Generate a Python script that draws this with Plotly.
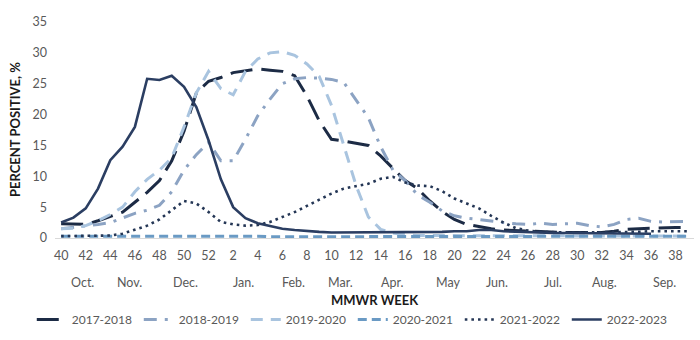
import plotly.graph_objects as go

# MMWR weeks of a season: week 40 through week 39 of the next year
weeks = list(range(40, 53)) + list(range(1, 40))

s2017_2018 = [2.3, 2.2, 2.2, 2.8, 3.5, 4.2, 5.8, 7.4, 9.3, 12.5, 17.3, 23.5, 25.4,
              26.0, 26.8, 27.1, 27.4, 27.2, 27.0, 26.3, 23.0, 19.0, 16.0, 15.7, 15.4,
              15.0, 13.3, 11.3, 9.3, 8.0, 6.0, 4.3, 3.0, 2.2, 1.8, 1.5, 1.3, 1.2, 1.1,
              1.0, 1.0, 0.9, 0.9, 0.9, 0.9, 1.1, 1.4, 1.5, 1.6, 1.7, 1.7, 1.7]
s2018_2019 = [1.5, 1.7, 2.0, 2.2, 2.5, 3.3, 4.0, 4.5, 5.3, 7.5, 11.0, 13.5, 15.5,
              12.5, 12.5, 16.0, 19.8, 22.5, 25.0, 25.8, 26.0, 25.9, 25.7, 25.2, 22.4,
              19.5, 14.8, 11.0, 9.3, 7.0, 5.8, 4.4, 3.6, 3.2, 3.0, 2.7, 2.5, 2.3, 2.2,
              2.4, 2.2, 2.3, 2.4, 2.0, 1.8, 2.2, 3.0, 3.2, 2.7, 2.6, 2.7, 2.7]
s2019_2020 = [1.5, 1.6, 2.0, 2.8, 3.8, 5.0, 7.5, 9.5, 11.0, 13.0, 18.0, 23.5, 27.0,
              24.2, 23.2, 27.0, 29.0, 30.0, 30.2, 29.6, 28.2, 26.2, 21.5, 15.0, 8.5,
              3.4, 1.4, 0.8, 0.5, 0.4, 0.4, 0.3, 0.3, 0.3, 0.3, 0.3, 0.3, 0.3, 0.3,
              0.3, 0.3, 0.3, 0.3, 0.3, 0.3, 0.3, 0.3, 0.3, 0.3, 0.3, 0.3, 0.3]
s2020_2021 = [0.3, 0.3, 0.3, 0.3, 0.3, 0.3, 0.3, 0.3, 0.3, 0.3, 0.3, 0.3, 0.4,
              0.4, 0.3, 0.3, 0.3, 0.2, 0.2, 0.2, 0.2, 0.2, 0.2, 0.2, 0.2, 0.2, 0.2,
              0.2, 0.2, 0.2, 0.2, 0.2, 0.2, 0.2, 0.2, 0.2, 0.2, 0.2, 0.2, 0.2, 0.2,
              0.2, 0.2, 0.2, 0.2, 0.2, 0.2, 0.2, 0.2, 0.2, 0.2, 0.3]
s2021_2022 = [0.3, 0.3, 0.3, 0.3, 0.4, 0.7, 1.3, 2.0, 3.0, 4.5, 6.0, 5.6, 4.2,
              2.6, 2.2, 2.0, 2.1, 2.6, 3.4, 4.2, 5.2, 6.2, 7.2, 8.0, 8.4, 8.8, 9.6,
              9.9, 9.0, 8.5, 8.4, 7.6, 6.4, 5.6, 4.8, 3.6, 2.5, 1.6, 1.2, 1.0, 0.9,
              0.9, 0.9, 0.9, 0.9, 0.9, 0.9, 1.0, 1.1, 1.1, 1.1, 1.1]
s2022_2023 = [2.5, 3.3, 4.8, 8.0, 12.6, 14.8, 18.0, 25.8, 25.6, 26.3, 24.5, 21.2, 15.8,
              9.5, 5.0, 3.2, 2.4, 1.9, 1.5, 1.3, 1.1, 1.0, 0.9, 0.9, 0.9, 0.9, 1.0,
              0.9, 0.9, 0.9, 1.0, 1.0, 1.1, 1.1, 1.3, 1.3, 1.1, 1.0, 0.9, 0.8, 0.8,
              0.8, 0.8, 0.8, 0.8, 0.8, 0.8, 0.8, 0.7, None, None, None]

months = ["Oct.", "Nov.", "Dec.", "Jan.", "Feb.", "Mar.", "Apr.", "May", "Jun.",
          "Jul.", "Aug.", "Sep."]
month_pos = [1.7, 5.6, 10.1, 14.8, 18.9, 22.7, 27.0, 31.5, 35.5, 40.0, 44.2, 49.1]

idx = list(range(len(weeks)))

series = [
    ("2017-2018", s2017_2018, "#1C2B45", 3, "22px,9px"),
    ("2018-2019", s2018_2019, "#8CA3C3", 3, "13px,8px,3px,8px"),
    ("2019-2020", s2019_2020, "#A9C4DF", 3, "12px,8px"),
    ("2020-2021", s2020_2021, "#6A9AC4", 3, "9px,5px"),
    ("2021-2022", s2021_2022, "#243655", 2.6, "2.6px,4px"),
    ("2022-2023", s2022_2023, "#2B3E62", 2.6, "solid"),
]

fig = go.Figure()
for name, vals, color, width, dash in series:
    fig.add_trace(go.Scatter(
        x=idx, y=vals, name=name, mode="lines",
        line=dict(color=color, width=width, dash=dash),
    ))

font_fam = "Lato, 'Open Sans', sans-serif"

fig.update_layout(
    width=700, height=340,
    margin=dict(l=55, r=6, t=22, b=98),
    paper_bgcolor="white", plot_bgcolor="white",
    font=dict(family=font_fam, size=12, color="#595959"),
    showlegend=True,
    legend=dict(
        orientation="h", x=0.466, xanchor="center", y=-0.377, yanchor="middle",
        font=dict(size=12, color="#595959"),
        entrywidth=62, entrywidthmode="pixels",
        traceorder="normal",
    ),
    xaxis=dict(
        range=[-0.5, 51.5],
        tickmode="array",
        tickvals=idx[::2],
        ticktext=[str(w) for w in weeks[::2]],
        showgrid=False, zeroline=False,
        showline=True, linecolor="#D9D9D9", linewidth=1,
        ticks="", ticklabelstandoff=6,
        tickfont=dict(size=12.5, color="#595959"),
    ),
    yaxis=dict(
        range=[0, 35], dtick=5,
        showgrid=False, zeroline=False, showline=False,
        ticks="", ticklabelstandoff=7,
        tickfont=dict(size=12.5, color="#595959"),
    ),
)

for label, pos in zip(months, month_pos):
    fig.add_annotation(
        x=pos, xref="x", y=-45 / 220, yref="paper",
        text=label, showarrow=False, xanchor="center", yanchor="middle",
        font=dict(size=12.5, color="#595959", family=font_fam),
    )

fig.add_annotation(
    x=(375 - 55) / 639, xref="paper", y=-63 / 220, yref="paper",
    text="<b>MMWR WEEK</b>", showarrow=False, xanchor="center", yanchor="middle",
    font=dict(size=13, color="#1A1A1A", family=font_fam),
)
fig.add_annotation(
    x=(15 - 55) / 639, xref="paper", y=0.5, yref="paper",
    text="<b>PERCENT POSITIVE, %</b>", textangle=-90, showarrow=False,
    xanchor="center", yanchor="middle",
    font=dict(size=13, color="#1A1A1A", family=font_fam),
)

fig.write_html("out.html")
